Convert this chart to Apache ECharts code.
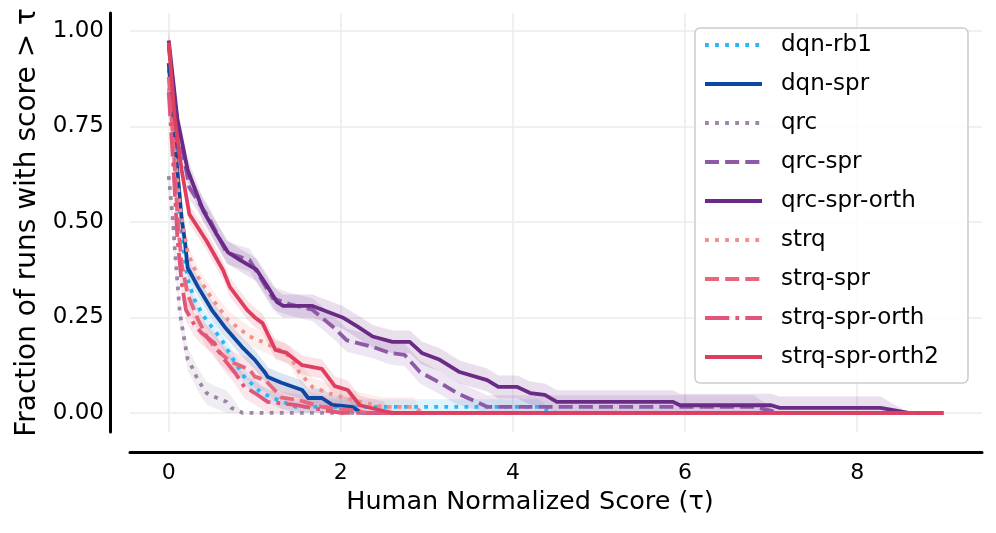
<!DOCTYPE html>
<html>
<head>
<meta charset="utf-8">
<script src="https://cdn.jsdelivr.net/npm/echarts@6/dist/echarts.min.js"></script>
<style>html,body{margin:0;padding:0;background:#fff}#c{width:996px;height:533px}</style>
</head>
<body>
<div id="c"></div>
<script>
const seriesNames = ['dqn-rb1','dqn-spr','qrc','qrc-spr','qrc-spr-orth','strq','strq-spr','strq-spr-orth','strq-spr-orth2'];
const xTicks = [0, 2, 4, 6, 8];
const yTicks = [0, 0.25, 0.5, 0.75, 1.0];

const dqnRb1 = [[0,0.9],[0.05,0.75],[0.1,0.6],[0.15,0.46],[0.22,0.35],[0.3,0.296],[0.4,0.255],[0.5,0.225],[0.62,0.19],[0.73,0.147],[0.88,0.094],[1.0,0.068],[1.08,0.052],[1.27,0.034],[1.47,0.016],[4.3,0.016],[4.5,0],[9,0]];
const dqnSpr = [[0,0.916],[0.05,0.77],[0.1,0.636],[0.15,0.51],[0.19,0.445],[0.22,0.38],[0.34,0.33],[0.5,0.27],[0.65,0.225],[0.85,0.173],[1.0,0.139],[1.12,0.105],[1.15,0.094],[1.31,0.079],[1.55,0.06],[1.62,0.039],[1.78,0.039],[1.9,0.021],[2.13,0.016],[2.24,0],[9,0]];
const qrc = [[0,0.62],[0.05,0.5],[0.07,0.43],[0.13,0.26],[0.19,0.18],[0.22,0.14],[0.27,0.12],[0.34,0.086],[0.44,0.052],[0.53,0.042],[0.67,0.029],[0.73,0.013],[0.86,0],[9,0]];
const qrcSpr = [[0,0.96],[0.1,0.76],[0.24,0.59],[0.48,0.505],[0.67,0.42],[0.94,0.40],[1.21,0.30],[1.4,0.285],[1.67,0.27],[1.91,0.225],[2.07,0.19],[2.37,0.173],[2.57,0.157],[2.74,0.152],[2.92,0.107],[3.15,0.079],[3.35,0.052],[3.7,0.016],[6.8,0.016],[7.1,0],[9,0]];
const qrcSprOrth = [[0,0.975],[0.1,0.77],[0.22,0.636],[0.4,0.53],[0.55,0.47],[0.69,0.42],[0.83,0.40],[1.02,0.375],[1.15,0.33],[1.26,0.29],[1.33,0.28],[1.67,0.28],[2.02,0.25],[2.2,0.225],[2.37,0.20],[2.6,0.186],[2.8,0.186],[2.94,0.157],[3.15,0.139],[3.38,0.107],[3.7,0.086],[3.83,0.068],[4.05,0.068],[4.2,0.052],[4.37,0.047],[4.51,0.029],[5.86,0.029],[5.94,0.02],[7.0,0.02],[7.1,0.013],[8.27,0.013],[8.6,0],[9,0]];
const strq = [[0,0.85],[0.13,0.54],[0.22,0.42],[0.34,0.356],[0.5,0.30],[0.69,0.243],[0.94,0.2],[1.09,0.186],[1.29,0.165],[1.41,0.147],[1.52,0.105],[1.67,0.068],[1.85,0.052],[2.05,0.039],[2.28,0.026],[2.48,0.016],[2.85,0.016],[2.95,0],[9,0]];
const strqSpr = [[0,0.88],[0.05,0.72],[0.1,0.52],[0.15,0.39],[0.22,0.31],[0.34,0.245],[0.44,0.2],[0.56,0.165],[0.71,0.135],[0.94,0.113],[1.0,0.095],[1.12,0.086],[1.23,0.06],[1.31,0.04],[1.5,0.034],[1.78,0.016],[2.1,0.008],[2.3,0],[9,0]];
const strqSprOrth = [[0,0.84],[0.05,0.66],[0.1,0.46],[0.15,0.34],[0.2,0.27],[0.3,0.23],[0.38,0.21],[0.53,0.183],[0.62,0.147],[0.77,0.105],[0.88,0.068],[1.0,0.052],[1.15,0.029],[1.47,0.021],[1.78,0.008],[2.0,0],[9,0]];
const strqSprOrth2 = [[0,0.97],[0.07,0.77],[0.15,0.636],[0.24,0.52],[0.44,0.45],[0.63,0.374],[0.71,0.33],[0.91,0.27],[1.0,0.25],[1.09,0.235],[1.24,0.165],[1.37,0.157],[1.55,0.125],[1.78,0.115],[1.93,0.07],[2.08,0.06],[2.22,0.02],[2.5,0.005],[2.6,0],[9,0]];
// confidence-band half widths
const ciHalf = [0.02, 0.025, 0.03, 0.03, 0.03, 0.025, 0.03, 0.03, 0.025];

const seriesData = [dqnRb1, dqnSpr, qrc, qrcSpr, qrcSprOrth, strq, strqSpr, strqSprOrth, strqSprOrth2];
const colors = ['#29b6f6','#0d47a1','#9c86a6','#8e5aa8','#692b86','#f28e8e','#e8667c','#e05578','#df3f5f'];
const lw = 3.8;
const dotted = [lw*1, lw*1.65];
const dashed = [lw*3.7, lw*1.6];
const dashdot = [lw*6.4, lw*1.6, lw*1, lw*1.6];
const types = [dotted,'solid',dotted,dashed,'solid',dotted,dashed,dashdot,'solid'];

const FONT = 'DejaVu Sans';
const chart = echarts.init(document.getElementById('c'), null, {renderer:'canvas'});

const bands = seriesData.map((d, i) => {
  const hi = d.map(p => [p[0], p[1] > 0 ? Math.min(1, p[1] + ciHalf[i]) : 0]);
  const lo = d.map(p => [p[0], Math.max(0, p[1] - ciHalf[i])]);
  return {
    type: 'custom', name: 'band-' + seriesNames[i], silent: true, clip: true, z: 1,
    data: [[0, 0]],
    renderItem: (params, api) => {
      const pts = hi.map(p => api.coord(p)).concat(lo.slice().reverse().map(p => api.coord(p)));
      return {type: 'polygon', shape: {points: pts}, style: {fill: colors[i], opacity: 0.15}};
    }
  };
});

const lines = seriesData.map((d, i) => ({
  type: 'line', name: seriesNames[i], data: d, symbol: 'none', showSymbol: false, z: 2,
  animation: false, color: colors[i],
  lineStyle: {color: colors[i], width: lw, type: types[i], cap: 'butt', join: 'round'}
}));

chart.setOption({
  animation: false,
  backgroundColor: '#ffffff',
  grid: {left: 130, right: 14, top: 13, bottom: 101, containLabel: false},
  xAxis: {
    type: 'value', min: -0.45, max: 9.45, minInterval: 2, maxInterval: 2, offset: 20,
    name: 'Human Normalized Score (τ)', nameLocation: 'middle', nameGap: 34,
    nameTextStyle: {fontFamily: FONT, fontSize: 25.5, color: '#000', padding: [0, 52, 0, 0]},
    axisLine: {show: true, onZero: false, lineStyle: {color: '#000', width: 3}},
    axisTick: {show: false},
    axisLabel: {fontFamily: FONT, fontSize: 22, color: '#000', margin: 10, showMinLabel: false, showMaxLabel: false,
      formatter: v => xTicks.includes(v) ? String(v) : ''},
    splitLine: {show: true, showMinLine: false, showMaxLine: false, lineStyle: {color: '#ebebeb', width: 1.5}}
  },
  yAxis: {
    type: 'value', min: -0.05, max: 1.047, minInterval: 0.25, maxInterval: 0.25, offset: 20,
    name: 'Fraction of runs with score > τ', nameLocation: 'middle', nameGap: 68, nameRotate: 90,
    nameTextStyle: {fontFamily: FONT, fontSize: 28, color: '#000'},
    axisLine: {show: true, onZero: false, lineStyle: {color: '#000', width: 3}},
    axisTick: {show: false},
    axisLabel: {fontFamily: FONT, fontSize: 23, color: '#000', margin: 6, showMinLabel: false, showMaxLabel: false,
      formatter: v => yTicks.includes(v) ? v.toFixed(2) : ''},
    splitLine: {show: true, showMinLine: false, showMaxLine: false, lineStyle: {color: '#ebebeb', width: 1.5}}
  },
  legend: {
    data: seriesNames, orient: 'vertical', left: 695, top: 28,
    itemWidth: 57, itemHeight: 20, itemGap: 9,
    padding: [2, 29, 11, 8],
    backgroundColor: 'rgba(255,255,255,0.85)', borderColor: '#cccccc', borderWidth: 1.5, borderRadius: 5,
    itemStyle: {opacity: 0, borderWidth: 0},
    lineStyle: {width: 4},
    textStyle: {fontFamily: FONT, fontSize: 23, color: '#000', lineHeight: 30, padding: [0, 0, 0, 14]},
    selectedMode: false
  },
  series: bands.concat(lines)
});
</script>
</body>
</html>
